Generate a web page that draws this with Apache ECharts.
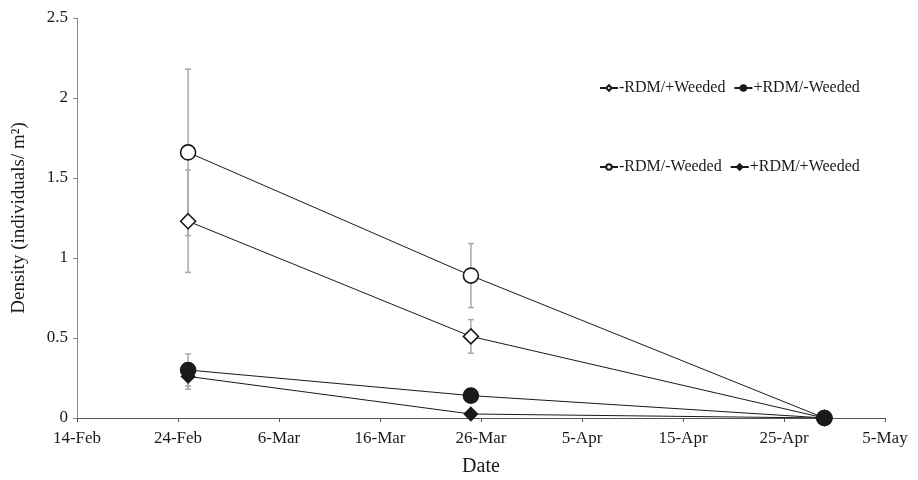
<!DOCTYPE html>
<html>
<head>
<meta charset="utf-8">
<script src="https://cdn.jsdelivr.net/npm/echarts@6/dist/echarts.min.js"></script>
<style>
  html, body { margin: 0; padding: 0; background: #fff; }
  #chart { width: 918px; height: 480px; }
</style>
</head>
<body>
<div id="chart"></div>
<script>
// sampling dates and axis range
var dates = ['2013-02-25', '2013-03-25', '2013-04-29'];
var axisStart = '2013-02-14';
var axisEnd = '2013-05-05';
var yTicks = [0, 0.5, 1, 1.5, 2, 2.5];

// mean density per treatment
var openDiamond = [1.23, 0.51, 0];      // -RDM/+Weeded
var openCircle = [1.66, 0.89, 0];       // -RDM/-Weeded
var filledCircle = [0.30, 0.14, 0];     // +RDM/-Weeded
var filledDiamond = [0.26, 0.025, 0];   // +RDM/+Weeded

// standard errors
var openDiamondErr = [0.32, 0.105, 0];
var openCircleErr = [0.52, 0.20, 0];
var filledCircleErr = [0.10, 0.02, 0];
var filledDiamondErr = [0.08, 0.01, 0];

var MONTHS = ['Jan','Feb','Mar','Apr','May','Jun','Jul','Aug','Sep','Oct','Nov','Dec'];
var DAY = 86400000;
var base = Date.parse(axisStart);
function dayOf(s) { return Math.round((Date.parse(s) - base) / DAY); }
var xs = dates.map(dayOf);
var xMax = dayOf(axisEnd);

function pairs(vals) { return vals.map(function (v, i) { return [xs[i], v]; }); }
function bars(vals, errs) {
  return vals.map(function (v, i) { return [xs[i], v - errs[i], v + errs[i]]; });
}

var font = 'Liberation Serif';
var ink = '#1a1a1a';

function errSeries(vals, errs) {
  return {
    type: 'custom',
    z: 1,
    silent: true,
    renderItem: function (params, api) {
      var lo = api.coord([api.value(0), api.value(1)]);
      var hi = api.coord([api.value(0), api.value(2)]);
      var w = 3;
      var st = { stroke: '#a8a8a8', lineWidth: 1.5 };
      return {
        type: 'group',
        children: [
          { type: 'line', shape: { x1: lo[0], y1: lo[1], x2: hi[0], y2: hi[1] }, style: st },
          { type: 'line', shape: { x1: lo[0] - w, y1: lo[1], x2: lo[0] + w, y2: lo[1] }, style: st },
          { type: 'line', shape: { x1: hi[0] - w, y1: hi[1], x2: hi[0] + w, y2: hi[1] }, style: st }
        ]
      };
    },
    data: bars(vals, errs)
  };
}

function lineSeries(name, vals, symbol, size, filled) {
  return {
    name: name,
    type: 'line',
    z: 3,
    data: pairs(vals),
    symbol: symbol,
    symbolSize: size,
    showAllSymbol: true,
    lineStyle: { color: ink, width: 1 },
    itemStyle: { color: filled ? ink : '#fff', borderColor: ink, borderWidth: 1.6 }
  };
}

var legendText = { fontFamily: font, fontSize: 16, color: ink, padding: [0, 0, 0, -4] };

var chart = echarts.init(document.getElementById('chart'));
chart.setOption({
  animation: false,
  backgroundColor: '#fff',
  grid: { left: 77, right: 33, top: 18, bottom: 62, outerBoundsMode: 'none', containLabel: false },
  legend: [
    {
      data: ['-RDM/+Weeded', '+RDM/-Weeded'],
      left: 594, top: 75,
      itemWidth: 18, itemHeight: 7, itemGap: 8,
      textStyle: legendText
    },
    {
      data: ['-RDM/-Weeded', '+RDM/+Weeded'],
      left: 594, top: 154,
      itemWidth: 18, itemHeight: 7, itemGap: 8,
      textStyle: legendText
    }
  ],
  xAxis: {
    type: 'value',
    min: 0, max: xMax, interval: 10,
    name: 'Date',
    nameLocation: 'middle',
    nameGap: 39,
    nameTextStyle: { fontFamily: font, fontSize: 20, color: ink },
    axisLine: { lineStyle: { color: '#555', width: 1 } },
    axisTick: { length: 4, lineStyle: { color: '#555' } },
    splitLine: { show: false },
    axisLabel: {
      fontFamily: font, fontSize: 17, color: ink, margin: 12,
      formatter: function (v) {
        var d = new Date(base + v * DAY);
        return d.getUTCDate() + '-' + MONTHS[d.getUTCMonth()];
      }
    }
  },
  yAxis: {
    type: 'value',
    min: yTicks[0], max: yTicks[yTicks.length - 1], interval: 0.5,
    name: 'Density (individuals/ m²)',
    nameLocation: 'middle',
    nameGap: 48,
    nameTextStyle: { fontFamily: font, fontSize: 19, color: ink },
    axisLine: { show: true, lineStyle: { color: '#888', width: 1 } },
    axisTick: { show: true, length: 4, lineStyle: { color: '#888' } },
    splitLine: { show: false },
    axisLabel: { fontFamily: font, fontSize: 17, color: ink, margin: 9 }
  },
  series: [
    errSeries(openCircle, openCircleErr),
    errSeries(openDiamond, openDiamondErr),
    errSeries(filledCircle, filledCircleErr),
    errSeries(filledDiamond, filledDiamondErr),
    lineSeries('-RDM/-Weeded', openCircle, 'circle', 15, false),
    lineSeries('-RDM/+Weeded', openDiamond, 'diamond', 15, false),
    lineSeries('+RDM/+Weeded', filledDiamond, 'diamond', 13, true),
    lineSeries('+RDM/-Weeded', filledCircle, 'circle', 15, true)
  ]
});
</script>
</body>
</html>
